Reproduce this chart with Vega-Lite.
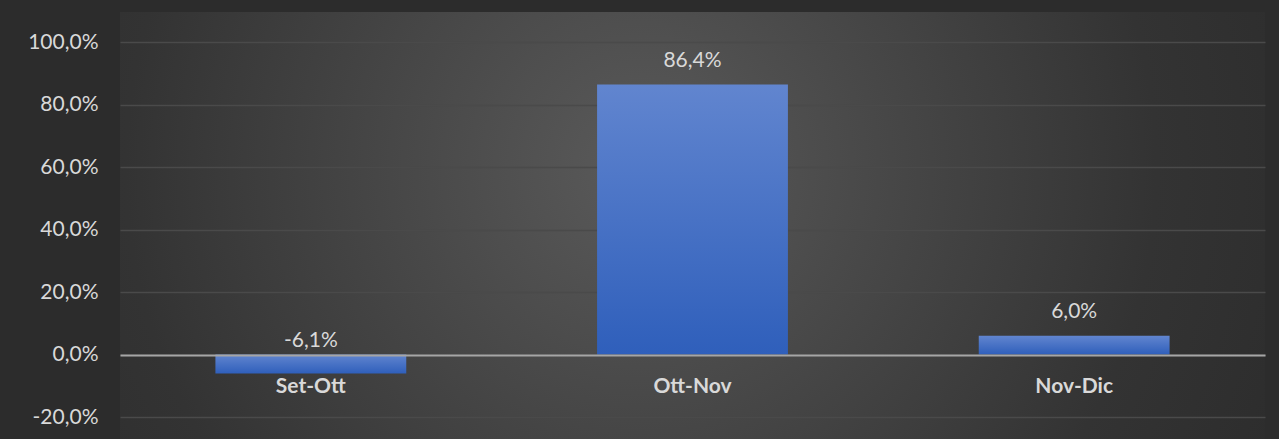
{
  "$schema": "https://vega.github.io/schema/vega-lite/v6.json",
  "autosize": "none",
  "width": 1145,
  "height": 427,
  "padding": {"left": 120, "top": 12, "right": 14, "bottom": 0},
  "background": "#2c2c2c",
  "config": {
    "locale": {"number": {"decimal": ",", "thousands": ".", "grouping": [3], "currency": ["€", ""], "minus": "-"}},
    "font": "Lato",
    "view": {
      "stroke": null,
      "fill": {
        "gradient": "radial",
        "x1": 0.455, "y1": 0.45, "r1": 0,
        "x2": 0.455, "y2": 0.45, "r2": 0.75,
        "stops": [
          {"offset": 0, "color": "#5a5a5a"},
          {"offset": 0.6, "color": "#333333"},
          {"offset": 1, "color": "#272727"}
        ]
      }
    }
  },
  "data": {
    "values": [
      {"periodo": "Set-Ott", "v": -0.061},
      {"periodo": "Ott-Nov", "v": 0.864},
      {"periodo": "Nov-Dic", "v": 0.060}
    ]
  },
  "encoding": {
    "x": {
      "field": "periodo",
      "type": "nominal",
      "sort": null,
      "scale": {"paddingInner": 0.5, "paddingOuter": 0.25},
      "axis": {
        "title": null,
        "orient": "bottom",
        "offset": -84,
        "labelAngle": 0,
        "labelFontSize": 21,
        "labelFontWeight": "bold",
        "labelColor": "#d9d9d9",
        "labelPadding": 20,
        "ticks": false,
        "domainColor": "#a6a6a6",
        "domainWidth": 2,
        "zindex": 1
      }
    }
  },
  "layer": [
    {
      "mark": {
        "type": "bar",
        "fill": {
          "gradient": "linear",
          "x1": 0, "y1": 0, "x2": 0, "y2": 1,
          "stops": [
            {"offset": 0, "color": "#6185cf"},
            {"offset": 1, "color": "#2f5fbb"}
          ]
        }
      },
      "encoding": {
        "y": {
          "field": "v",
          "type": "quantitative",
          "scale": {"domain": [-0.2704, 1.096], "nice": false, "zero": false},
          "axis": {
            "title": null,
            "values": [-0.2, 0, 0.2, 0.4, 0.6, 0.8, 1.0],
            "format": ".1%",
            "domain": false,
            "ticks": false,
            "labelFontSize": 21,
            "labelColor": "#d9d9d9",
            "labelPadding": 22,
            "gridColor": "#4a4a4a",
            "gridWidth": 1.5
          }
        }
      }
    },
    {
      "transform": [{"filter": "datum.v >= 0"}],
      "mark": {"type": "text", "fontSize": 21, "color": "#d9d9d9", "baseline": "bottom", "dy": -14},
      "encoding": {
        "y": {"field": "v", "type": "quantitative"},
        "text": {"field": "v", "type": "quantitative", "format": ".1%"}
      }
    },
    {
      "transform": [{"filter": "datum.v < 0"}],
      "mark": {"type": "text", "fontSize": 21, "color": "#d9d9d9", "baseline": "bottom", "dy": -4},
      "encoding": {
        "y": {"datum": 0, "type": "quantitative"},
        "text": {"field": "v", "type": "quantitative", "format": ".1%"}
      }
    }
  ]
}
